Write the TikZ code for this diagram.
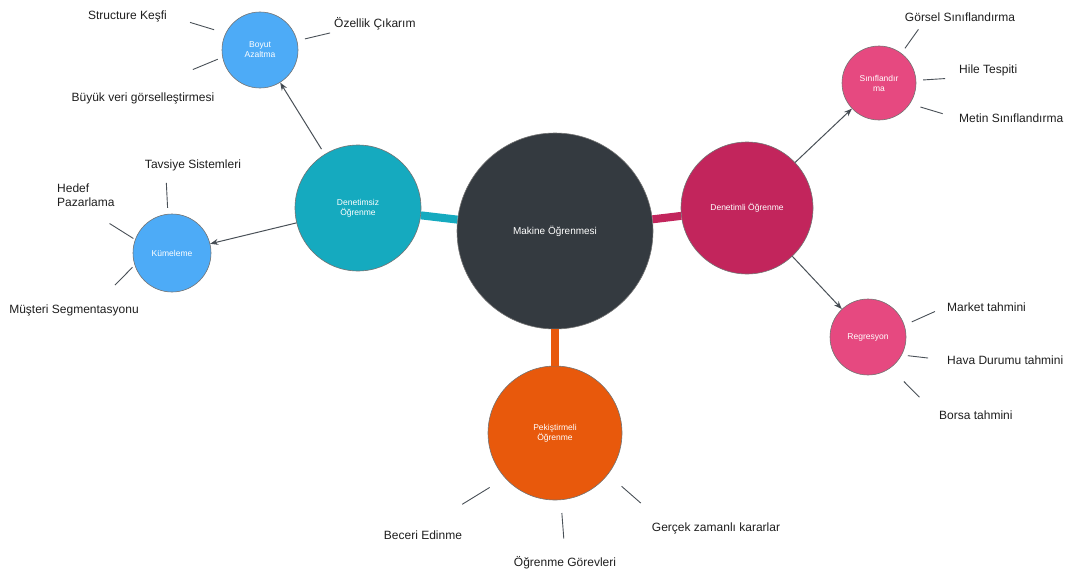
\documentclass[tikz,border=0pt]{standalone}
\usepackage{fontspec}
\setmainfont{Liberation Sans}
\usetikzlibrary{arrows.meta,positioning}
\definecolor{ink}{HTML}{1E1E1E}
\definecolor{lineg}{HTML}{495057}
\definecolor{dark}{HTML}{343A40}
\definecolor{cyan7}{HTML}{15AABF}
\definecolor{blue5}{HTML}{4DABF7}
\definecolor{pink9}{HTML}{C2255C}
\definecolor{pink6}{HTML}{E64980}
\definecolor{orng}{HTML}{E8590C}
\tikzset{>/.tip={Stealth[length=8pt,width=6pt]}}
\tikzset{bub/.style={circle,draw=black!55,line width=.6pt,text=white,align=center,inner sep=0pt,font=\fontsize{8.5}{10}\selectfont}}
\tikzset{leaf/.style={text=ink,inner sep=2pt,align=left,font=\fontsize{12}{14}\selectfont}}
\tikzset{twig/.style={draw=lineg,line width=.9pt}}
\tikzset{arr/.style={->,draw=lineg,line width=1pt}}
\tikzset{trunk/.style={line width=8pt}}

\begin{document}
\begin{tikzpicture}[x=1pt,y=1pt,on grid]
        \useasboundingbox (0,0) rectangle (1075,-578);
        \node(ML)[bub,fill=dark,minimum size=196pt,font=\fontsize{10}{12}\selectfont] at (555,-231) {Makine Öğrenmesi};
        \node(Uns)[bub,fill=cyan7,minimum size=126pt,above left=23pt and 197pt of ML]{Denetimsiz\\Öğrenme};
        \node(Sup)[bub,fill=pink9,minimum size=132pt,above right=23pt and 192pt of ML]{Denetimli Öğrenme};
        \node(Rei)[bub,fill=orng,minimum size=134pt,below=202pt of ML]{Pekiştirmeli\\Öğrenme};
        \node(Dim)[bub,fill=blue5,minimum size=76pt,above left=158pt and 98pt of Uns]{Boyut\\Azaltma};
        \node(Clu)[bub,fill=blue5,minimum size=78pt,below left=45pt and 186pt of Uns]{Kümeleme};
        \node(Cls)[bub,fill=pink6,minimum size=74pt,above right=125pt and 132pt of Sup]{Sınıflandır\\ma};
        \node(Reg)[bub,fill=pink6,minimum size=76pt,below right=129pt and 121pt of Sup]{Regresyon};
        % leaves
        \node(sk)[leaf,above left=34pt and 91pt of Dim,anchor=east]{Structure Keşfi};
        \node(oc)[leaf,above right=26pt and 72pt of Dim,anchor=west]{Özellik Çıkarım};
        \node(bv)[leaf,below left=48pt and 117pt of Dim]{Büyük veri görselleştirmesi};
        \node(tv)[leaf,above right=88pt and 21pt of Clu]{Tavsiye Sistemleri};
        \node(hp)[leaf,above left=58pt and 117pt of Clu,anchor=west]{Hedef\\Pazarlama};
        \node(ms)[leaf,below left=57pt and 98pt of Clu]{Müşteri Segmentasyonu};
        \node(gs)[leaf,above right=66pt and 81pt of Cls]{Görsel Sınıflandırma};
        \node(ht)[leaf,above right=13pt and 78pt of Cls,anchor=west]{Hile Tespiti};
        \node(mt)[leaf,below right=35pt and 78pt of Cls,anchor=west]{Metin Sınıflandırma};
        \node(mk)[leaf,above right=30pt and 77pt of Reg,anchor=west]{Market tahmini};
        \node(hd)[leaf,below right=23pt and 77pt of Reg,anchor=west]{Hava Durumu tahmini};
        \node(bo)[leaf,below right=78pt and 69pt of Reg,anchor=west]{Borsa tahmini};
        \node(be)[leaf,below left=102pt and 132pt of Rei]{Beceri Edinme};
        \node(og)[leaf,below right=130pt and 10pt of Rei]{Öğrenme Görevleri};
        \node(gz)[leaf,below right=95pt and 161pt of Rei]{Gerçek zamanlı kararlar};
        % thick branches
        \draw[trunk,cyan7] (Uns) -- (ML);
        \draw[trunk,pink9] (Sup) -- (ML);
        \draw[trunk,orng] (Rei) -- (ML);
        \draw[arr]
        (Uns) edge[shorten <=6pt] (Dim)
        (Uns) edge (Clu)
        (Sup) edge (Cls)
        (Sup) edge (Reg);
        \draw[twig]
        (Dim.154) edge[shorten <=12pt,shorten >=22pt] (sk.east)
        (Dim.14) edge[shorten <=8pt,shorten >=2pt] (oc.south west)
        (Dim.191) edge[shorten <=5pt,shorten >=54pt] (bv.north)
        (Clu.96) edge[shorten <=6pt,shorten >=10pt] (tv.196)
        (Clu.160) edge[shorten <=2pt,shorten >=28pt] (hp.south)
        (Clu.198) edge[shorten <=3pt,shorten >=24pt] (ms.18)
        (Cls.53) edge[shorten <=6pt,shorten >=7pt] (gs.190)
        (Cls.4) edge[shorten <=7pt,shorten >=12pt] (ht.south west)
        (Cls.-34) edge[shorten <=11pt,shorten >=15pt] (mt.west)
        (Reg.18) edge[shorten <=8pt,shorten >=11pt] (mk.west)
        (Reg.-28) edge[shorten <=6pt,shorten >=17pt] (hd.west)
        (Reg.-54) edge[shorten <=19pt,shorten >=25pt] (bo.west)
        (Rei.222) edge[shorten <=18pt,shorten >=46pt] (be.north)
        (Rei.-85) edge[shorten <=13pt,shorten >=16pt] (og.north)
        (Rei.-38) edge[shorten <=18pt,shorten >=26pt] (gz.172);
      \end{tikzpicture}
\end{document}
